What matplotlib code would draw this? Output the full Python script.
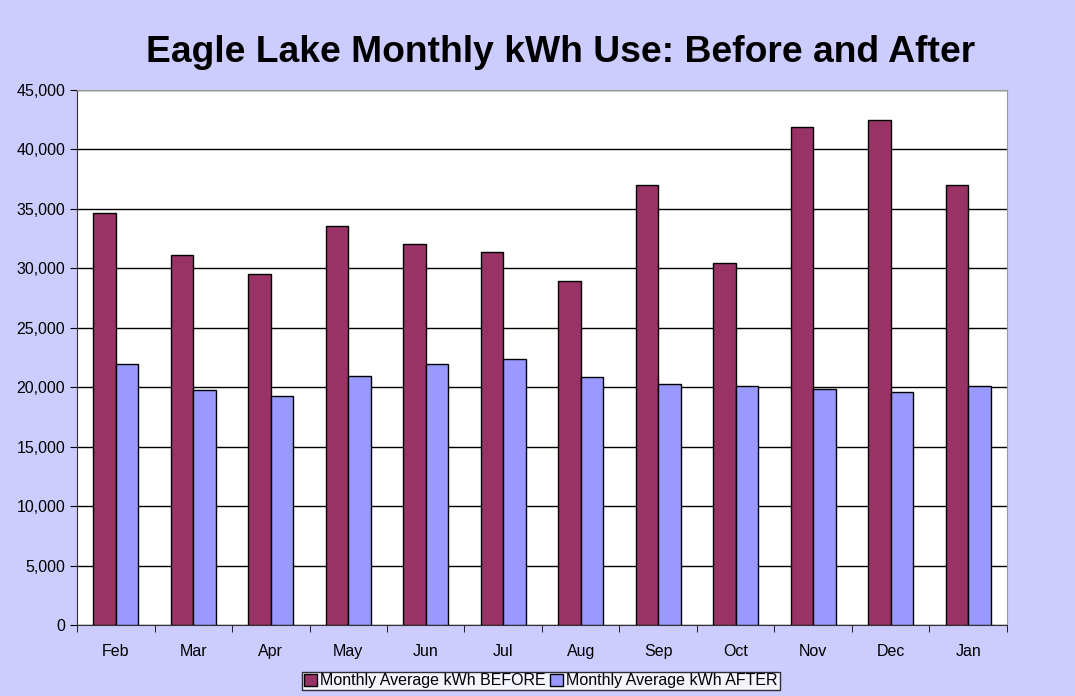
import numpy as np
import matplotlib.pyplot as plt

plt.rcParams["font.family"] = ["Liberation Sans", "DejaVu Sans"]

months = ["Feb", "Mar", "Apr", "May", "Jun", "Jul",
          "Aug", "Sep", "Oct", "Nov", "Dec", "Jan"]
before_kwh = [34650, 31120, 29520, 33560, 32050, 31380,
              28950, 37020, 30450, 41890, 42480, 37020]
after_kwh = [21950, 19770, 19270, 20940, 21950, 22380,
             20860, 20280, 20110, 19850, 19600, 20110]

BG = "#CCCCFF"
fig = plt.figure(figsize=(10.75, 6.96), dpi=100, facecolor=BG)
ax = fig.add_axes([77 / 1075, 1 - 625 / 696, 930 / 1075, 535 / 696])
ax.set_facecolor("white")

x = np.arange(len(months))
w = 0.29
ax.bar(x - w / 2, before_kwh, w, color="#993366", edgecolor="black",
       lw=1, label="Monthly Average kWh BEFORE", zorder=3)
ax.bar(x + w / 2, after_kwh, w, color="#9999FF", edgecolor="black",
       lw=1, label="Monthly Average kWh AFTER", zorder=3)

ax.set_xlim(-0.5, len(months) - 0.5)
ax.set_ylim(0, 45000)
ax.set_yticks(np.arange(0, 45001, 5000))
ax.set_yticklabels([f"{v:,}" for v in range(0, 45001, 5000)])
ax.set_xticks(x)
ax.set_xticklabels(months)
ax.set_xticks(np.arange(-0.5, len(months), 1), minor=True)
ax.tick_params(axis="x", which="major", length=0, pad=14, labelsize=11.5)
ax.tick_params(axis="x", which="minor", length=5, direction="out")
ax.tick_params(axis="y", length=5, labelsize=11.5)
ax.grid(axis="y", color="black", lw=1, zorder=0)
for s in ["top", "right"]:
    ax.spines[s].set_color("#999999")
for s in ["left", "bottom"]:
    ax.spines[s].set_color("#333333")

fig.text(561 / 1075, 1 - 52 / 696, "Eagle Lake Monthly kWh Use: Before and After",
         ha="center", va="center", fontsize=26.8, fontweight="bold")

leg = fig.legend(loc="center", bbox_to_anchor=(541 / 1075, 1 - 681 / 696),
                 ncol=2, fontsize=11.5, frameon=True, fancybox=False,
                 handlelength=0.8, handletextpad=0.2, columnspacing=0.3,
                 borderpad=0.1, borderaxespad=0)
leg.get_frame().set_edgecolor("black")
leg.get_frame().set_linewidth(1)

fig.savefig("out.png", dpi=100, facecolor=BG)
